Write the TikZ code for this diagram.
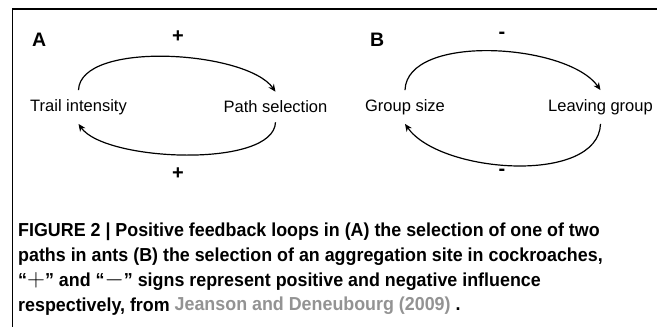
\documentclass[tikz,border=0pt]{standalone}
\usepackage{fontspec}
\setmainfont{Liberation Sans}
\newfontfamily\capfont[FakeStretch=0.95]{Liberation Sans}
\usetikzlibrary{arrows.meta}
\newcommand{\bigsign}[1]{{\fontsize{24}{25}\selectfont$#1$}}

\begin{document}
\begin{tikzpicture}[x=1pt,y=1pt,
		lbl/.style = {font=\fontsize{16.5}{18}\selectfont, inner sep=9pt},
		panel/.style = {font=\fontsize{19.5}{20}\selectfont\bfseries, anchor=base west, inner sep=0pt},
		sign/.style = {font=\fontsize{20}{20}\selectfont\bfseries, inner sep=0pt},
		loop/.style = {line width=1.2pt, -{Stealth[length=7.5pt,width=6.5pt]}}]
		\useasboundingbox (0,0) rectangle (657,327);
		\coordinate (corner) at (12.5,318);
		\draw[line width=1.5pt] (12.5,0) -- (corner) -- (657,318);
		% panel A
		\node [panel] (pa) at (32,280) {A};
		\node [lbl] (trail) at (78.5,220) {Trail intensity};
		\node [lbl] (path) at (275.5,220) {Path selection};
		\draw [loop] (trail.north) to[out=88, in=125, looseness=0.65] (path.north);
		\draw [loop] (path.south) to[out=-92, in=-55, looseness=0.6] (trail.south);
		\node [sign] (pa1) at (178,290) {+};
		\node [sign] (pa2) at (178,153) {+};
		% panel B
		\node [panel] (pb) at (370,280) {B};
		\node [lbl] (size) at (405,220) {Group size};
		\node [lbl] (leave) at (600.5,220) {Leaving group};
		\draw [loop] (size.north) to[out=88, in=125, looseness=0.75] (leave.north);
		\draw [loop] (leave.south) to[out=-92, in=-55, looseness=0.8] (size.south);
		\node [sign] (pb1) at (502,292) {-};
		\node [sign] (pb2) at (502,155) {-};
		% caption
		\node [anchor=base west, inner sep=0pt, align=left,
			font=\capfont\fontsize{18.8}{25}\selectfont\bfseries] (cap) at (18,16)
			{FIGURE 2 | Positive feedback loops in (A) the selection of one of two\\
			paths in ants (B) the selection of an aggregation site in cockroaches,\\
			“\bigsign{+}” and “\bigsign{-}” signs represent positive and negative influence\\
			respectively, from \textcolor{gray!85}{Jeanson and Deneubourg (2009)} .};
	\end{tikzpicture}
\end{document}
